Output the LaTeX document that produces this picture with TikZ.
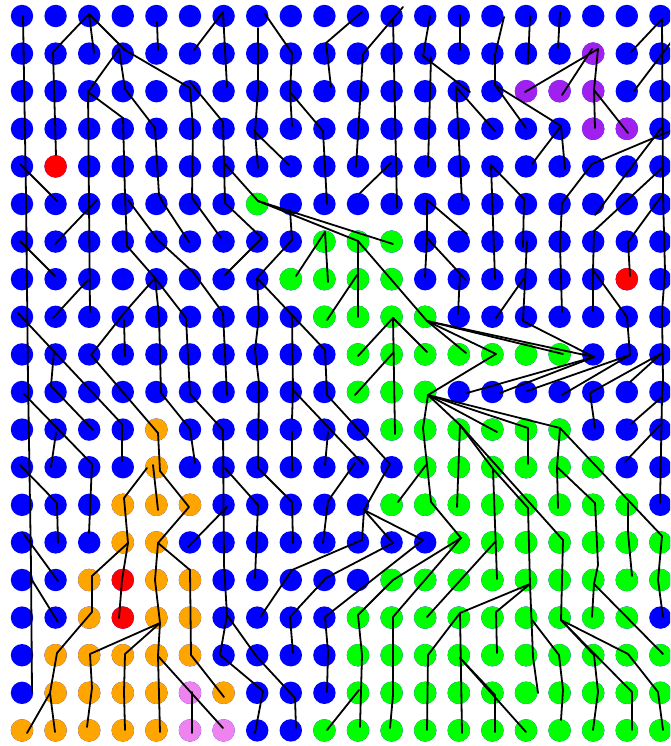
\documentclass[tikz,border=0pt]{standalone}
\begin{document}
\begin{tikzpicture}[x=1pt,y=-1pt,
  edge/.style={black,line width=1.8pt,line join=round,line cap=round}]
\definecolor{cB}{RGB}{0,0,255}
\definecolor{cG}{RGB}{0,255,0}
\definecolor{cO}{RGB}{255,165,0}
\definecolor{cR}{RGB}{255,0,0}
\definecolor{cP}{RGB}{160,32,240}
\definecolor{cV}{RGB}{238,130,238}
\useasboundingbox (0,0) rectangle (670,746);
\clip (0,0) rectangle (670,746);
\fill[white] (0,0) rectangle (670,746);
\newcommand{\dotat}[3]{\fill[#3] ({22+33.6*#1},{16+37.6*#2}) circle (11.2);}
% blue base
\foreach \r in {0,...,19} { \foreach \c in {0,...,19} { \dotat{\c}{\r}{cB} } }
% green
\foreach \r/\a/\b in {5/7/7,6/9/11,7/8/11,8/9/12,9/10/16,10/10/12,11/11/16,12/12/17,13/11/18,14/13/19,15/11/19,16/10/18,17/10/19,18/10/19,19/9/19}
  { \foreach \c in {\a,...,\b} { \dotat{\c}{\r}{cG} } }
% orange
\foreach \c/\r in {4/11,4/12,3/13,4/13,5/13,3/14,4/14,2/15,4/15,5/15,2/16,4/16,5/16,1/17,2/17,3/17,4/17,5/17,1/18,2/18,3/18,4/18,6/18,0/19,1/19,2/19,3/19,4/19}
  { \dotat{\c}{\r}{cO} }
% red
\foreach \c/\r in {1/4,18/7,3/15,3/16} { \dotat{\c}{\r}{cR} }
% purple
\foreach \c/\r in {17/1,15/2,16/2,17/2,17/3,18/3} { \dotat{\c}{\r}{cP} }
% violet
\foreach \c/\r in {5/18,5/19,6/19} { \dotat{\c}{\r}{cV} }

\begin{scope}[edge]
\draw (23,16)--(26,195)--(28,380)--(31,565)--(32,692);
\draw (56,155)--(53,52)--(89,14)--(94,53);
\draw (89,14)--(125,50)--(190,88)--(193,128)--(192,198)--(221,238);
\draw (119,49)--(88,92)--(90,312);
\draw (119,49)--(125,89)--(155,128)--(159,195)--(162,201)--(189,242);
\draw (88,92)--(123,118)--(125,195)--(127,246)--(155,278);
\draw (157,22)--(158,50);
\draw (194,50)--(223,12)--(227,87);
\draw (190,82)--(223,122)--(225,203)--(262,238)--(225,275);
\draw (20,164)--(57,201);
\draw (225,164)--(258,201)--(393,244);
\draw (258,201)--(358,241);
\draw (258,28)--(258,90)--(255,132)--(258,168);
\draw (255,132)--(289,165);
\draw (265,14)--(292,53)--(290,92)--(292,126);
\draw (290,92)--(323,131)--(327,204);
\draw (362,12)--(326,43)--(331,87);
\draw (403,7)--(363,54)--(356,167);
\draw (393,18)--(397,208);
\draw (430,16)--(423,56)--(470,92);
\draw (431,57)--(428,167);
\draw (360,193)--(391,163);
\draw (460,15)--(460,50);
\draw (504,17)--(495,55)--(495,85)--(526,128);
\draw (495,85)--(561,126)--(532,164);
\draw (561,126)--(565,169);
\draw (530,16)--(528,64);
\draw (560,12)--(558,48);
\draw (456,87)--(495,131);
\draw (456,87)--(462,200);
\draw (525,92)--(598,49)--(594,90)--(595,128);
\draw (592,49)--(562,95);
\draw (594,90)--(628,133);
\draw (631,52)--(662,19)--(663,195)--(665,271)--(662,312)--(663,380)--(662,397)--(660,503);
\draw (634,91)--(675,37);
\draw (675,129)--(592,164)--(562,203)--(560,245)--(562,312);
\draw (662,127)--(595,215);
\draw (662,168)--(594,231)--(593,270)--(593,311);
\draw (593,270)--(627,317)--(630,355);
\draw (491,165)--(495,279);
\draw (491,165)--(524,199)--(523,247);
\draw (527,241)--(523,321)--(594,357);
\draw (524,278)--(496,318);
\draw (663,194)--(628,242)--(630,276);
\draw (427,200)--(467,234);
\draw (427,238)--(466,280);
\draw (427,200)--(427,238)--(425,277);
\draw (460,274)--(458,314);
\draw (97,200)--(55,244);
\draw (20,241)--(55,276);
\draw (88,280)--(53,318);
\draw (128,200)--(158,240)--(193,272)--(223,313)--(227,395);
\draw (155,278)--(125,312)--(91,355)--(158,433)--(160,471)--(189,507)--(158,543)--(155,580)--(160,623)--(158,656)--(160,732);
\draw (124,320)--(125,356);
\draw (155,278)--(159,316)--(161,393)--(190,429)--(195,463);
\draw (155,278)--(186,318)--(190,394)--(223,430)--(224,565)--(227,615)--(220,655)--(263,691)--(255,733);
\draw (227,615)--(257,657)--(295,698)--(296,728);
\draw (18,313)--(122,424)--(122,461);
\draw (54,351)--(51,386)--(93,430);
\draw (24,394)--(92,464)--(89,533);
\draw (56,433)--(51,467);
\draw (20,465)--(57,503)--(58,543);
\draw (147,468)--(124,498)--(128,543)--(92,576)--(92,612)--(57,653)--(50,693)--(27,733);
\draw (50,693)--(55,732);
\draw (128,543)--(122,580)--(119,618);
\draw (153,465)--(158,510);
\draw (158,543)--(190,570)--(191,655)--(224,697);
\draw (188,547)--(227,507);
\draw (225,468)--(258,505)--(255,578);
\draw (23,533)--(58,581);
\draw (32,580)--(58,622);
\draw (160,623)--(90,654)--(92,688)--(87,727);
\draw (160,623)--(125,654)--(124,692)--(125,730);
\draw (158,656)--(223,728);
\draw (192,692)--(192,733);
\draw (290,210)--(292,240)--(257,278)--(259,316)--(255,350)--(259,383)--(258,468)--(292,502)--(293,543);
\draw (257,278)--(292,315)--(293,390)--(292,419);
\draw (293,390)--(363,464);
\draw (292,315)--(325,350)--(327,395)--(390,464)--(364,510)--(362,540)--(292,570)--(261,616);
\draw (292,432)--(292,471);
\draw (328,432)--(325,465);
\draw (355,463)--(328,501)--(323,543);
\draw (393,353)--(355,395);
\draw (393,318)--(358,356);
\draw (393,318)--(427,352);
\draw (393,318)--(395,434);
\draw (325,232)--(296,276);
\draw (325,232)--(328,282);
\draw (358,241)--(358,317);
\draw (357,275)--(327,320);
\draw (358,241)--(427,321);
\draw (427,321)--(466,353);
\draw (427,321)--(496,354);
\draw (427,321)--(563,354);
\draw (427,321)--(594,357);
\draw (594,357)--(467,393);
\draw (594,357)--(500,393);
\draw (630,355)--(527,391);
\draw (630,355)--(562,395);
\draw (662,353)--(590,393)--(595,428);
\draw (662,353)--(630,382);
\draw (428,395)--(496,354);
\draw (428,395)--(423,428)--(431,502)--(461,538);
\draw (428,395)--(460,425)--(457,507);
\draw (460,425)--(493,469)--(497,579);
\draw (460,425)--(563,540)--(561,620);
\draw (493,469)--(528,508)--(530,584)--(533,657)--(538,693);
\draw (428,395)--(497,432);
\draw (428,395)--(528,428)--(528,464);
\draw (428,395)--(560,428)--(557,467)--(558,508);
\draw (560,428)--(662,536)--(658,580)--(663,617);
\draw (557,467)--(595,503)--(598,565)--(594,584)--(592,617);
\draw (594,584)--(663,654);
\draw (628,503)--(628,533)--(632,576);
\draw (662,397)--(631,424);
\draw (662,423)--(625,462);
\draw (426,465)--(398,502);
\draw (364,510)--(393,543)--(326,578)--(290,617)--(293,653);
\draw (364,510)--(423,540)--(325,617)--(328,652)--(327,692);
\draw (461,538)--(393,580)--(358,615)--(362,655)--(360,727);
\draw (461,538)--(393,617)--(393,695)--(390,728);
\draw (495,542)--(427,617);
\draw (530,584)--(460,613)--(428,655)--(427,730);
\draw (359,690)--(327,730);
\draw (530,584)--(496,612)--(497,653);
\draw (460,613)--(462,733);
\draw (460,658)--(495,695)--(495,732);
\draw (460,658)--(526,732);
\draw (532,620)--(559,655)--(563,690)--(561,720);
\draw (561,620)--(594,655)--(598,692)--(593,730);
\draw (561,620)--(628,654)--(658,692)--(663,730);
\draw (561,620)--(632,692)--(632,730);
\end{scope}
\end{tikzpicture}
\end{document}
